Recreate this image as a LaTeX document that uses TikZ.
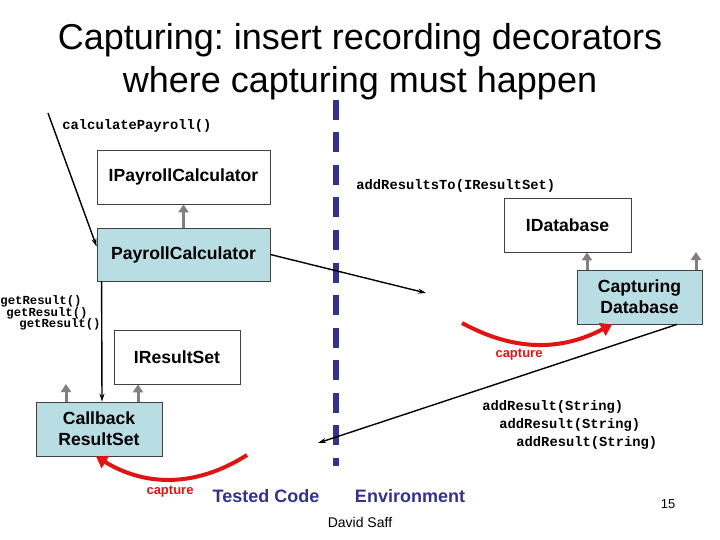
\documentclass[tikz,border=0pt]{standalone}
\usepackage{fontspec}
\setmainfont{Liberation Sans}
\newfontfamily\codefont{Liberation Mono}
\usetikzlibrary{arrows.meta}
\definecolor{navy}{RGB}{51,51,140}
\definecolor{boxblue}{RGB}{184,222,228}
\definecolor{capred}{RGB}{225,20,20}
\definecolor{implgray}{RGB}{128,128,128}
\frenchspacing

\begin{document}
\begin{tikzpicture}[x=1pt, y=-1pt, thick,
	main/.style = {draw=black!75, line width=0.8pt, minimum width=126pt, minimum height=54pt, inner sep=0pt, align=center, font=\fontsize{17.6}{21}\selectfont\bfseries},
	dec/.style = {main, fill=boxblue},
	call/.style = {line width=1.4pt, -{Stealth[length=8pt,width=5pt]}},
	impl/.style = {implgray, line width=3pt, -{Triangle[length=8pt,width=10pt]}},
	caparrow/.style = {capred, line width=4pt, -{Triangle[length=11pt,width=14pt]}},
	code/.style = {inner sep=0pt, anchor=west, font=\codefont\bfseries\fontsize{13.8}{16}\selectfont},
	side/.style = {navy, inner sep=0pt, font=\fontsize{18}{21}\selectfont\bfseries}]
	\useasboundingbox (0,0) rectangle (720,540);
	\node[inner sep=0pt, align=center, font=\fontsize{36}{43}\selectfont] (title) at (360,61.5) {Capturing: insert recording decorators\\where capturing must happen};
	\draw[navy, line width=6pt, dash pattern=on 20pt off 12.5pt] (336,100) coordinate (top) -- (336,466) coordinate (bot);
	\node[main, minimum width=173pt] (ipc) at (183.5,177) {IPayrollCalculator};
	\node[dec, minimum width=173pt, minimum height=53pt] (pc) at (183.5,254.5) {PayrollCalculator};
	\node[main, minimum width=127pt] (idb) at (567.5,225) {IDatabase};
	\node[dec, minimum width=125pt] (cdb) at (639.5,297) {Capturing\\Database};
	\node[main] (irs) at (177,357) {IResultSet};
	\node[dec] (crs) at (99,429) {Callback\\ResultSet};
	\node[code] (cp) at (62,126) {calculatePayroll()};
	\node[code] (art) at (356,186) {addResultsTo(IResultSet)};
	\node[code, font=\codefont\bfseries\fontsize{12.3}{11.8}\selectfont, align=left, anchor=north west] (gr) at (0,295) {getResult()\\\hspace*{6pt}getResult()\\\hspace*{19pt}getResult()};
	\node[code, align=left, anchor=north west, font=\codefont\bfseries\fontsize{13.8}{18}\selectfont] (ar) at (482,400) {addResult(String)\\\hspace*{17pt}addResult(String)\\\hspace*{34pt}addResult(String)};
	\node[capred, inner sep=0pt, font=\fontsize{13}{15}\selectfont\bfseries] (cap1) at (519,355) {capture};
	\node[capred, inner sep=0pt, font=\fontsize{13}{15}\selectfont\bfseries] (cap2) at (170,492) {capture};
	\node[side] (tc) at (266,496) {Tested Code};
	\node[side] (env) at (410,496) {Environment};
	\node[inner sep=0pt, font=\fontsize{14}{16}\selectfont] (auth) at (360,522) {David Saff};
	\node[inner sep=0pt, font=\fontsize{13}{15}\selectfont] (num) at (668,504) {15};
	\coordinate (in) at (48,113);
	\coordinate (e1) at (426,293);
	\coordinate (e2) at (318,443);
	\coordinate (u1) at (696,252);
	\coordinate (u2) at (66,384);
	\coordinate (r1) at (462,323);
	\coordinate (r2) at (247,455);
	\draw[call] (in) -- ([yshift=8pt]pc.west);
	\draw[call] (pc.east) -- (e1);
	\draw[call] ([xshift=37.5pt]cdb.south) -- (e2);
	\draw[call] ([xshift=5pt]pc.south west) -- ([xshift=3pt]crs.north);
	\draw[impl] (pc.north) -- (ipc.south);
	\draw[impl] ([xshift=-52.5pt]cdb.north) -- ([xshift=19.5pt]idb.south);
	\draw[impl] ([xshift=56.5pt]cdb.north) -- (u1);
	\draw[impl] ([xshift=-33pt]crs.north) -- (u2);
	\draw[impl] ([xshift=39pt]crs.north) -- ([xshift=-39pt]irs.south);
	\draw[caparrow] (r1) to[bend right=28] ([xshift=-27.5pt]cdb.south);
	\draw[caparrow] (r2) to[bend left=32] ([xshift=-3pt]crs.south);
\end{tikzpicture}
\end{document}
